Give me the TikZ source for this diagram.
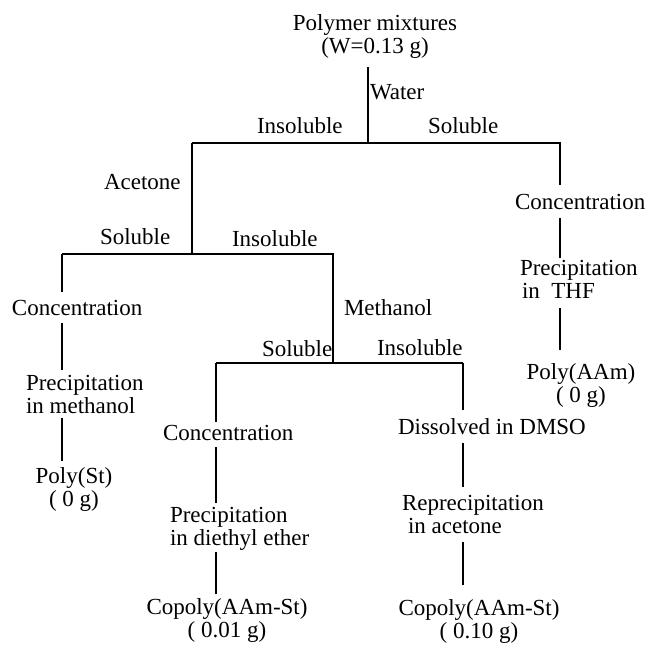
\documentclass[tikz,border=0pt]{standalone}
\usepackage{fontspec}
\setmainfont{Liberation Serif}
\begin{document}
\begin{tikzpicture}[x=1pt,y=-1pt,
  txt/.style={inner sep=0pt, outer sep=0pt, font=\fontsize{23}{23}\selectfont, align=left, anchor=base west},
  ctxt/.style={txt, align=center, anchor=base},
  ln/.style={line width=1.8pt}]
\useasboundingbox (0,0) rectangle (647,645);
% junctions
\coordinate (j1) at (368,143);
\coordinate (j1L) at (192,143);
\coordinate (j1R) at (560,143);
\coordinate (j2) at (192,254);
\coordinate (j2L) at (62,254);
\coordinate (j2R) at (333,254);
\coordinate (j3) at (333,363);
\coordinate (j3L) at (216,363);
\coordinate (j3R) at (463,363);
% nodes (multi-line nodes: base = baseline of last line)
\node[ctxt] (top) at (375,53) {Polymer mixtures\\(W=0.13 g)};
\node[txt] (water) at (370,99) {Water};
\node[txt] (ins1) at (257,133) {Insoluble};
\node[txt] (sol1) at (428,133) {Soluble};
\node[txt] (acet) at (104,189) {Acetone};
\node[txt] (sol2) at (100,244) {Soluble};
\node[txt] (ins2) at (232,246) {Insoluble};
\node[txt] (meth) at (344,315) {Methanol};
\node[txt] (sol3) at (262,356) {Soluble};
\node[txt] (ins3) at (377,355) {Insoluble};
\node[txt] (conR) at (515,209) {Concentration};
\node[txt] (precR) at (520,298) {Precipitation\\\hspace*{2pt}in\ \ THF};
\node[ctxt] (polyA) at (581,402) {Poly(AAm)\\( 0 g)};
\node[txt] (conL) at (12,315) {Concentration};
\node[txt] (precL) at (26,413) {Precipitation\\in methanol};
\node[ctxt] (polyS) at (74,506) {Poly(St)\\( 0 g)};
\node[txt] (conM) at (163,440) {Concentration};
\node[txt] (precM) at (170,545) {Precipitation\\in diethyl ether};
\node[ctxt] (copM) at (227,637) {Copoly(AAm-St)\\( 0.01 g)};
\node[txt] (diss) at (398,434) {Dissolved in DMSO};
\node[txt] (reprec) at (402,533) {Reprecipitation\\\hspace*{6pt}in acetone};
\node[ctxt] (copR) at (479,638) {Copoly(AAm-St)\\( 0.10 g)};
% connectors
\draw[ln, shorten <=9pt] (top.south -| j1) -- (j1);
\draw[ln, shorten >=8.5pt] (j1L) -- (j1R) -- (conR.north -| j1R);
\draw[ln] (j1L) -- (j2);
\draw[ln] (j2L) -- (j2R) -- (j3);
\draw[ln] (j3L) -- (j3R);
\draw[ln, shorten <=9pt, shorten >=1.3pt] (conR.south -| j1R) -- (precR.north -| j1R);
\draw[ln, shorten <=10pt, shorten >=13pt] (precR.south -| j1R) -- (polyA.north -| j1R);
\draw[ln, shorten >=7.5pt] (j2L) -- (conL.north -| j2L);
\draw[ln, shorten <=8pt, shorten >=4.3pt] (conL.south -| j2L) -- (precL.north -| j2L);
\draw[ln, shorten <=5pt, shorten >=6pt] (precL.south -| j2L) -- (polyS.north -| j2L);
\draw[ln, shorten >=2.5pt] (j3L) -- (conM.north -| j3L);
\draw[ln, shorten <=7pt, shorten >=3.3pt] (conM.south -| j3L) -- (precM.north -| j3L);
\draw[ln, shorten <=2pt, shorten >=4pt] (precM.south -| j3L) -- (copM.north -| j3L);
\draw[ln, shorten >=8.3pt] (j3R) -- (diss.north -| j3R);
\draw[ln, shorten <=9pt, shorten >=7.3pt] (diss.south -| j3R) -- (reprec.north -| j3R);
\draw[ln, shorten <=9pt, shorten >=14pt] (reprec.south -| j3R) -- (copR.north -| j3R);
\end{tikzpicture}
\end{document}
